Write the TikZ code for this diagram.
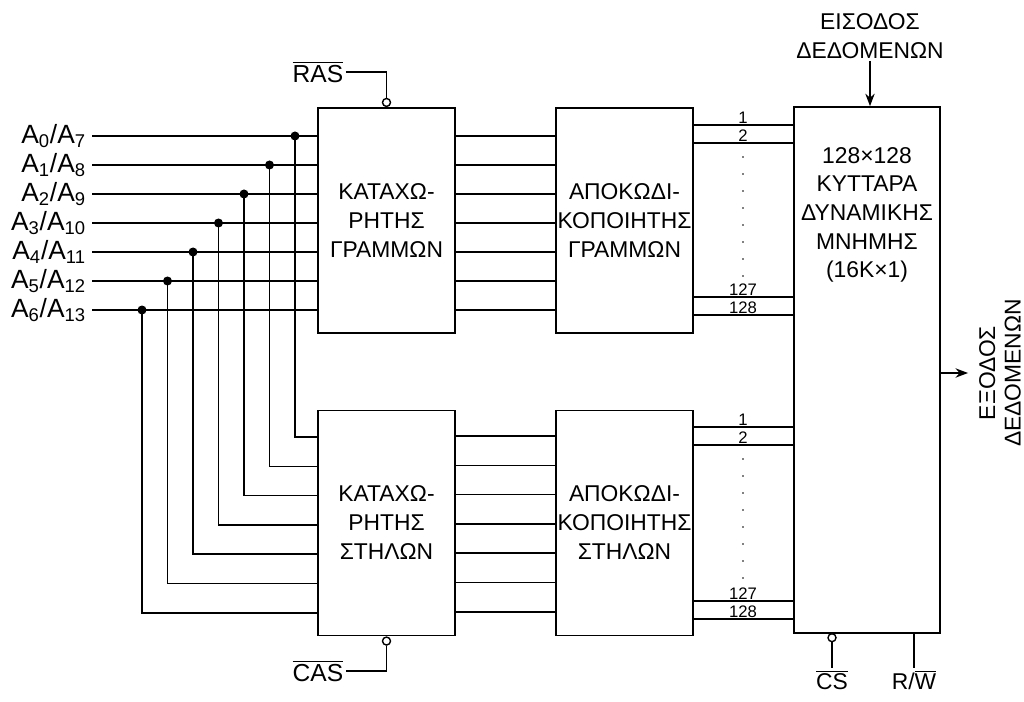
\documentclass[tikz,border=0pt]{standalone}
\usepackage{fontspec}
\setmainfont{Liberation Sans}
\usetikzlibrary{arrows.meta,positioning,calc}

\begin{document}
\begin{tikzpicture}[x=0.02cm, y=-0.02cm, line width=0.8pt,
    blk/.style={draw, line width=1pt, minimum width=2.74cm, minimum height=4.5cm,
      align=center, inner sep=0pt, font=\fontsize{13}{16.5}\selectfont},
    txt/.style={align=center, inner sep=1pt, font=\fontsize{13}{16.3}\selectfont},
    num/.style={anchor=south, inner sep=0.4pt, font=\fontsize{9.5}{10}\selectfont},
    bub/.style={circle, draw, fill=white, line width=0.8pt, inner sep=0pt, minimum size=0.16cm},
    jdot/.style={fill, radius=0.09cm}]
    \useasboundingbox (0,0) rectangle (1024,702);

    % blocks
    \node[blk] (regR) at (386.5,220.5) {ΚΑΤΑΧΩ-\\ΡΗΤΗΣ\\ΓΡΑΜΜΩΝ};
    \node[blk] (decR) at (624.5,220.5) {ΑΠΟΚΩΔΙ-\\ΚΟΠΟΙΗΤΗΣ\\ΓΡΑΜΜΩΝ};
    \node[blk] (regC) at (386.5,523) {ΚΑΤΑΧΩ-\\ΡΗΤΗΣ\\ΣΤΗΛΩΝ};
    \node[blk] (decC) at (624.5,523) {ΑΠΟΚΩΔΙ-\\ΚΟΠΟΙΗΤΗΣ\\ΣΤΗΛΩΝ};
    \node[draw, line width=1pt, minimum width=2.92cm, minimum height=10.52cm] (mem) at (867,370) {};
    \node[txt] (memtxt) at (867,215) {128×128\\ΚΥΤΤΑΡΑ\\ΔΥΝΑΜΙΚΗΣ\\ΜΝΗΜΗΣ\\(16K×1)};

    % address inputs
    \foreach \i [evaluate=\i as \ya using 136+29*\i,
                 evaluate=\i as \yb using 437+29.3*\i,
                 evaluate=\i as \xj using 295-25.5*\i] in {0,...,6}{
      \pgfmathtruncatemacro{\k}{\i+7}
      \node[anchor=east, inner sep=3pt, font=\fontsize{15}{17}\selectfont] (a\i) at (92,\ya)
        {A\textsubscript{\i}/A\textsubscript{\k}};
      \coordinate (j\i) at (\xj,\ya);
      \coordinate (c\i) at (318,\yb);
      \draw (a\i.east) -- (a\i.east -| regR.west);
      \draw (j\i) |- (c\i);
      \fill[jdot] (j\i) circle;
    }

    % register to decoder
    \foreach \i [evaluate=\i as \ya using 136+29*\i,
                 evaluate=\i as \yb using 436+29.3*\i] in {0,...,6}{
      \coordinate (rr\i) at (500,\ya);
      \coordinate (rc\i) at (500,\yb);
      \draw (rr\i -| regR.east) -- (rr\i -| decR.west);
      \draw (rc\i -| regC.east) -- (rc\i -| decC.west);
    }

    % decoder to memory
    \foreach \n/\yy/\lab in {t1/125/1, t2/143/2, t3/297/127, t4/315/128,
                             b1/427/1, b2/445/2, b3/601/127, b4/619/128}{
      \coordinate (\n) at (743,\yy);
      \draw (\n -| decR.east) -- (\n -| mem.west);
      \node[num] at (\n) {\lab};
    }
    \foreach \d in {0,...,7}{
      \fill (743,157+17*\d) circle[radius=0.45pt];
      \fill (743,459+17*\d) circle[radius=0.45pt];
    }

    % strobes
    \node[bub, anchor=south] (rasb) at (regR.north) {};
    \node[txt, font=\fontsize{14}{16}\selectfont] (ras) at (318,72) {$\overline{\hbox{RAS}}$};
    \draw (ras.east) -| (rasb.north);
    \node[bub, anchor=north] (casb) at (regC.south) {};
    \node[txt, font=\fontsize{14}{16}\selectfont] (cas) at (318,671) {$\overline{\hbox{CAS}}$};
    \draw (casb.south) |- (cas.east);

    % data in / out
    \node[txt] (din) at (870,36) {ΕΙΣΟΔΟΣ\\ΔΕΔΟΜΕΝΩΝ};
    \draw[-{Stealth[length=2.5mm]}] (din.south) -- (din.south |- mem.north);
    \coordinate (dout) at (968,373);
    \draw[-{Stealth[length=2.5mm]}] (dout -| mem.east) -- (dout);
    \node[txt, rotate=90, font=\fontsize{13}{14.5}\selectfont] (doutl) at (1000,373) {ΕΞΟΔΟΣ\\ΔΕΔΟΜΕΝΩΝ};

    % control
    \node[bub, anchor=north] (csb) at (832,633) {};
    \node[txt, anchor=north] (cs) at (832,668) {$\overline{\hbox{CS}}$};
    \draw (csb.south) -- (cs.north);
    \node[txt, anchor=north] (rw) at (914,668) {R/$\overline{\hbox{W}}$};
    \draw (rw.north |- mem.south) -- (rw.north);
  \end{tikzpicture}
\end{document}
